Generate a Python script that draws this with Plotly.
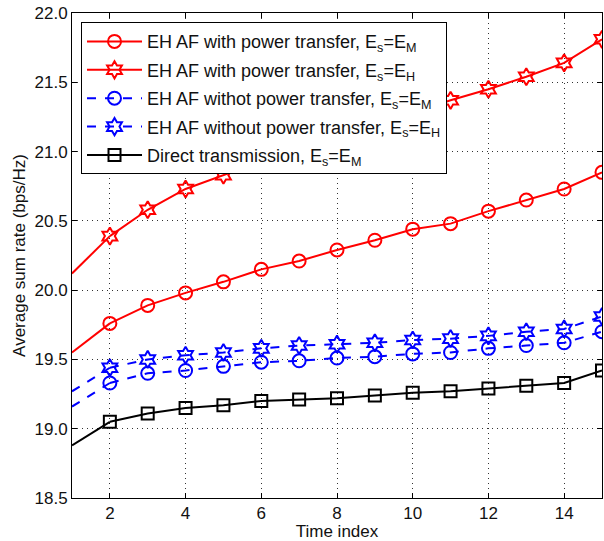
import plotly.graph_objects as go

time_index = list(range(1, 16))
eh_pt_m = [19.55, 19.76, 19.89, 19.98, 20.06, 20.15, 20.21, 20.29, 20.36, 20.44, 20.48, 20.57, 20.65, 20.73, 20.85]
eh_pt_h = [20.12, 20.39, 20.58, 20.73, 20.83, 20.93, 21.02, 21.12, 21.20, 21.28, 21.37, 21.45, 21.54, 21.64, 21.81]
eh_npt_m = [19.16, 19.33, 19.40, 19.42, 19.45, 19.48, 19.49, 19.51, 19.52, 19.54, 19.55, 19.58, 19.60, 19.62, 19.70]
eh_npt_h = [19.27, 19.44, 19.50, 19.53, 19.55, 19.58, 19.60, 19.61, 19.62, 19.64, 19.65, 19.67, 19.70, 19.72, 19.81]
direct_m = [18.88, 19.05, 19.11, 19.15, 19.17, 19.20, 19.21, 19.22, 19.24, 19.26, 19.27, 19.29, 19.31, 19.33, 19.42]

series = [
    ("EH AF with power transfer, E<sub>s</sub>=E<sub>M</sub>", eh_pt_m, "red", "solid", "circle-open", 13),
    ("EH AF with power transfer, E<sub>s</sub>=E<sub>H</sub>", eh_pt_h, "red", "solid", "hexagram-open", 13),
    ("EH AF withot power transfer, E<sub>s</sub>=E<sub>M</sub>", eh_npt_m, "blue", "dash", "circle-open", 13),
    ("EH AF without power transfer, E<sub>s</sub>=E<sub>H</sub>", eh_npt_h, "blue", "dash", "hexagram-open", 13),
    ("Direct transmission, E<sub>s</sub>=E<sub>M</sub>", direct_m, "black", "solid", "square-open", 12),
]

fig = go.Figure()
for i, (name, ys, color, dash, sym, msize) in enumerate(series):
    grp = f"g{i}"
    # first segment (no marker at x=1)
    fig.add_trace(go.Scatter(x=time_index[:2], y=ys[:2], mode="lines", showlegend=False, legendgroup=grp,
                             line=dict(color=color, width=2, dash=dash), hoverinfo="skip"))
    fig.add_trace(go.Scatter(x=time_index[1:], y=ys[1:], mode="lines+markers", name=name, legendgroup=grp,
                             line=dict(color=color, width=2, dash=dash),
                             marker=dict(symbol=sym, size=msize, color=color, line=dict(width=2, color=color))))

axis_common = dict(showline=True, linecolor="black", linewidth=1, mirror="ticks", ticks="inside",
                   ticklen=5, tickcolor="black", showgrid=True, gridcolor="#333333", griddash="1px,4px",
                   gridwidth=1, zeroline=False, tickfont=dict(size=17, color="#111111"))

fig.update_xaxes(range=[1, 15], tickvals=[2, 4, 6, 8, 10, 12, 14],
                 title=dict(text="Time index", font=dict(size=17, color="#111111"), standoff=0), **axis_common)
fig.update_yaxes(range=[18.5, 22.0], tickvals=[18.5, 19.0, 19.5, 20.0, 20.5, 21.0, 21.5, 22.0],
                 tickformat=".1f",
                 title=dict(text="Average sum rate (bps/Hz)", font=dict(size=17, color="#111111"), standoff=4),
                 **axis_common)

fig.update_layout(
    width=604, height=541,
    margin=dict(l=72, r=2, t=13, b=43),
    paper_bgcolor="white", plot_bgcolor="white",
    font=dict(family="Liberation Sans, Arial, sans-serif", size=17, color="#111111"),
    legend=dict(x=0.017, y=0.981, xanchor="left", yanchor="top", bgcolor="white",
                bordercolor="black", borderwidth=1, font=dict(size=18), tracegroupgap=2,
                itemwidth=55),
)

fig.write_html("out.html")
